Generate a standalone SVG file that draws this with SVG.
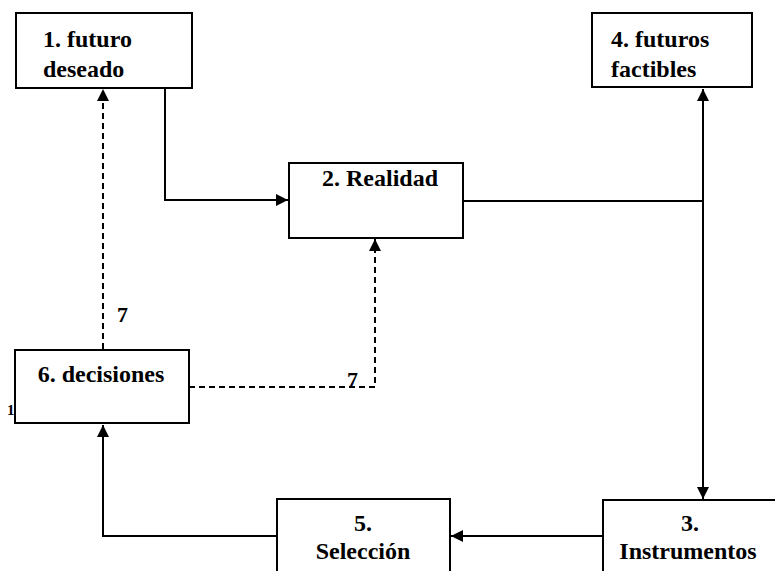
<svg xmlns="http://www.w3.org/2000/svg" width="775" height="571" viewBox="0 0 775 571">
<style>
.box{fill:#fff;stroke:#000;stroke-width:2}
.c{text-anchor:middle}
.ln{fill:none;stroke:#000;stroke-width:2}
.ds{fill:none;stroke:#000;stroke-width:2;stroke-dasharray:6 4}
</style>
<defs>
<marker id="ah" viewBox="0 0 12 12" refX="12" refY="6" markerWidth="12" markerHeight="12" markerUnits="userSpaceOnUse" orient="auto">
<path d="M0,0 L12,6 L0,12 Z" fill="#000"/>
</marker>
</defs>
<rect width="775" height="571" fill="#fff"/>
<g id="connectors">
<path class="ln" d="M165,88 V200 H288" marker-end="url(#ah)"/>
<path class="ln" d="M463,201 H703"/>
<path class="ln" d="M703,201 V89" marker-end="url(#ah)"/>
<path class="ln" d="M703,201 V499" marker-end="url(#ah)"/>
<path class="ln" d="M603,536 H451" marker-end="url(#ah)"/>
<path class="ln" d="M277,536 H103 V425" marker-end="url(#ah)"/>
<path class="ds" d="M103,349 V89" marker-end="url(#ah)"/>
<path class="ds" d="M189,387 H375 V239" marker-end="url(#ah)"/>
</g>
<g font-family="'Liberation Serif', 'DejaVu Serif', serif" font-weight="bold" font-size="24" fill="#000">
<text x="117" y="322" font-size="22">7</text>
<text x="347" y="387" font-size="22">7</text>
<g id="n1">
<rect class="box" x="16" y="13" width="176" height="75"/>
<text x="43" y="47">1. futuro</text>
<text x="43" y="77">deseado</text>
</g>
<g id="n2">
<rect class="box" x="289" y="163" width="174" height="75"/>
<text class="c" x="380" y="186">2. Realidad</text>
</g>
<g id="n4">
<rect class="box" x="592" y="13" width="160" height="74"/>
<text x="611" y="47">4. futuros</text>
<text x="611" y="77">factibles</text>
</g>
<g id="n6">
<rect class="box" x="15" y="350" width="174" height="73"/>
<text class="c" x="101" y="382">6. decisiones</text>
<text x="7" y="415" font-size="15">1</text>
</g>
<g id="n5">
<rect class="box" x="277" y="499" width="173" height="100"/>
<text class="c" x="363" y="531">5.</text>
<text class="c" x="363" y="559">Selección</text>
</g>
<g id="n3">
<rect class="box" x="603" y="500" width="200" height="100"/>
<text class="c" x="690" y="531">3.</text>
<text class="c" x="688" y="559">Instrumentos</text>
</g>
</g>
</svg>
